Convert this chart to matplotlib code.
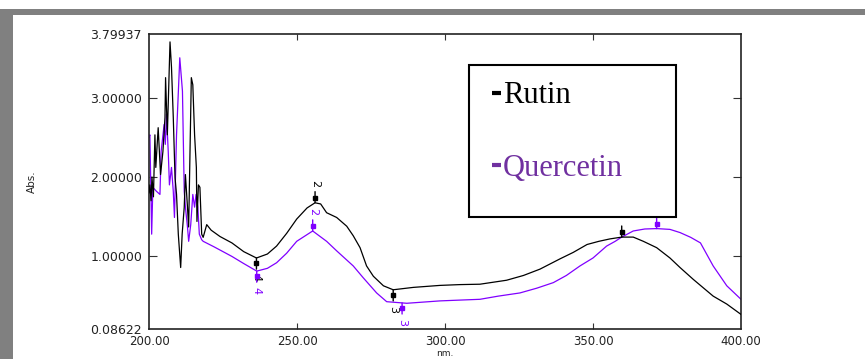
import numpy as np
import matplotlib
matplotlib.use('Agg')
import matplotlib.pyplot as plt
import matplotlib.transforms as mtransforms
from matplotlib.patches import Rectangle
from matplotlib.lines import Line2D

# Rutin spectrum (nm, Abs.)
rutin_nm = [200.0, 200.3, 200.7, 201.0, 201.5, 202.0, 202.3, 203.1, 203.9, 204.7,
            205.4, 205.6, 206.2, 207.1, 207.6, 208.2, 208.8, 209.3, 209.9, 210.7,
            211.2, 211.9, 212.3, 213.0, 213.4, 214.3, 214.8, 215.4, 216.0, 216.2,
            216.7, 217.2, 217.8, 218.3, 219.5, 221.0, 224.0, 228.0, 232.0, 236.3,
            240.0, 243.1, 246.5, 249.9, 253.4, 256.1, 258.0, 260.0, 263.4, 266.8,
            269.0, 271.3, 273.5, 275.8, 279.2, 282.5, 289.3, 298.3, 305.0, 311.8,
            320.8, 326.5, 332.1, 338.9, 343.3, 348.0, 352.0, 355.7, 359.7, 363.6,
            367.0, 371.5, 376.0, 379.4, 383.9, 390.6, 395.2, 400.0]
rutin_abs = [1.80, 1.90, 1.70, 2.00, 1.75, 2.53, 2.12, 2.62, 2.03, 2.32,
             2.75, 3.25, 2.53, 3.70, 3.38, 2.75, 1.99, 1.78, 1.28, 0.86,
             1.28, 1.62, 2.03, 1.62, 1.37, 3.25, 3.16, 2.53, 2.12, 1.44,
             1.90, 1.87, 1.28, 1.24, 1.40, 1.33, 1.25, 1.17, 1.06, 0.98,
             1.03, 1.13, 1.29, 1.47, 1.61, 1.675, 1.66, 1.55, 1.49, 1.38,
             1.26, 1.11, 0.88, 0.75, 0.63, 0.58, 0.61, 0.635, 0.645, 0.65,
             0.70, 0.76, 0.84, 0.97, 1.05, 1.15, 1.19, 1.22, 1.243, 1.243,
             1.19, 1.11, 0.98, 0.86, 0.71, 0.50, 0.40, 0.27]

# Quercetin spectrum (nm, Abs.)
quer_nm = [200.0, 200.3, 200.9, 201.3, 202.5, 203.7, 204.1, 205.1, 205.5, 205.9,
           206.5, 206.9, 207.6, 208.2, 208.6, 209.3, 210.4, 211.3, 211.9, 212.3,
           213.0, 213.4, 214.1, 214.8, 215.4, 215.9, 216.5, 217.0, 217.8, 218.3,
           222.0, 228.0, 232.0, 236.4, 240.0, 243.1, 246.5, 249.9, 255.3, 260.0,
           263.4, 269.0, 272.4, 276.9, 280.3, 287.1, 298.3, 305.0, 311.8, 318.0,
           325.3, 331.0, 336.6, 341.0, 345.6, 350.0, 354.6, 357.5, 359.7, 363.6,
           367.5, 371.5, 376.0, 379.4, 383.0, 386.3, 390.6, 395.2, 400.0]
quer_abs = [2.50, 2.53, 1.28, 1.87, 1.82, 1.78, 2.32, 2.66, 2.41, 2.79,
            2.32, 1.90, 2.12, 1.82, 1.49, 2.53, 3.50, 3.08, 1.82, 1.62,
            1.37, 1.19, 1.40, 1.78, 1.62, 1.78, 1.62, 1.28, 1.21, 1.19,
            1.12, 1.00, 0.91, 0.815, 0.85, 0.92, 1.04, 1.19, 1.32, 1.19,
            1.07, 0.88, 0.73, 0.54, 0.43, 0.41, 0.44, 0.45, 0.46, 0.50,
            0.54, 0.60, 0.67, 0.76, 0.88, 0.98, 1.13, 1.19, 1.243, 1.32,
            1.345, 1.35, 1.34, 1.30, 1.24, 1.17, 0.88, 0.63, 0.46]

# peak / valley picks: (nm, label, side)  side +1 above, -1 below
# the labels of the last picks sit under the legend box and are not shown
rutin_picks = [(256.1, '2', 1), (236.3, '4', -1), (282.5, '3', -1), (359.7, '', 1)]
quer_picks = [(255.3, '2', 1), (236.4, '4', -1), (285.5, '3', -1), (371.5, '', 1)]

x_ticks = [200, 250, 300, 350, 400]
x_ticklabels = ['200.00', '250.00', '300.00', '350.00', '400.00']
y_ticks = [0.08622, 1.0, 2.0, 3.0, 3.79937]
y_ticklabels = ['0.08622', '1.00000', '2.00000', '3.00000', '3.79937']

black = '#000000'
purple = '#8000ff'
legend_purple = '#7030a0'

fig = plt.figure(figsize=(8.65, 3.59), dpi=100)
ax = fig.add_axes([149 / 865, 1 - 329 / 359, 592 / 865, 295 / 359])

ax.plot(quer_nm, quer_abs, color=purple, lw=0.9, zorder=2)
ax.plot(rutin_nm, rutin_abs, color=black, lw=0.9, zorder=3)


def draw_picks(nm, ab, picks, color):
    for x, lab, side in picks:
        y = np.interp(x, nm, ab)
        ax.annotate('', xy=(x, y), xytext=(0, side * 8), textcoords='offset points',
                    arrowprops=dict(arrowstyle='-', lw=1.0, color=color,
                                    shrinkA=0, shrinkB=0), zorder=4)
        tr = mtransforms.offset_copy(ax.transData, fig=fig, x=0, y=side * 3.5,
                                     units='points')
        ax.plot([x], [y], marker='s', ms=3, color=color, transform=tr, zorder=4)
        if lab:
            ax.annotate(lab, xy=(x, y), xytext=(0, side * 14),
                        textcoords='offset points', ha='center', va='center',
                        rotation=-90, fontsize=8, color=color, zorder=4)


draw_picks(rutin_nm, rutin_abs, rutin_picks, black)
draw_picks(quer_nm, quer_abs, quer_picks, purple)

ax.set_xlim(200, 400)
ax.set_ylim(0.08622, 3.79937)
ax.set_xticks(x_ticks)
ax.set_xticklabels(x_ticklabels)
ax.set_yticks(y_ticks)
ax.set_yticklabels(y_ticklabels)
ax.tick_params(axis='both', direction='in', labelsize=9, colors='#333333',
               labelcolor='#222222')
ax.tick_params(axis='y', length=6, right=True, pad=5)
ax.tick_params(axis='x', length=4.5, top=True, pad=4, labelsize=8.5)
# end ticks are only limits, hide their marks
for t in ax.yaxis.get_major_ticks()[::4] + ax.xaxis.get_major_ticks()[::4]:
    t.tick1line.set_visible(False)
    t.tick2line.set_visible(False)
for s in ax.spines.values():
    s.set_color('#222222')
    s.set_linewidth(1.2)

ax.set_ylabel('Abs.', fontsize=7.5, color='#222222')
ax.yaxis.set_label_coords(-0.19, 0.5)
ax.set_xlabel('nm.', fontsize=6.5, color='#222222')
ax.xaxis.set_label_coords(0.5, -0.067)

# legend box drawn over the curves
ax.add_patch(Rectangle((469 / 865, 1 - 217 / 359), 207 / 865, 152 / 359,
                       transform=fig.transFigure, facecolor='white',
                       edgecolor='black', lw=1.5, clip_on=False, zorder=10))
fig.text(503 / 865, 1 - 103 / 359, 'Rutin', family='Liberation Serif', fontsize=22,
         color=black, va='baseline', zorder=11)
fig.text(503 / 865, 1 - 176 / 359, 'Quercetin', family='Liberation Serif',
         fontsize=22, color=legend_purple, va='baseline', zorder=11)
for yy, c in [(92.5, black), (165.5, legend_purple)]:
    fig.add_artist(Line2D([492 / 865, 501 / 865], [1 - yy / 359, 1 - yy / 359],
                          transform=fig.transFigure, color=c, lw=3.0,
                          solid_capstyle='butt', zorder=11))

# grey window frame
fig.add_artist(Rectangle((0, 1 - 15 / 359), 1, 6 / 359, transform=fig.transFigure,
                         facecolor='#808080', edgecolor='none', zorder=12))
fig.add_artist(Rectangle((0, 0), 13 / 865, 1 - 9 / 359, transform=fig.transFigure,
                         facecolor='#808080', edgecolor='none', zorder=12))

fig.savefig('out.png', dpi=100)
